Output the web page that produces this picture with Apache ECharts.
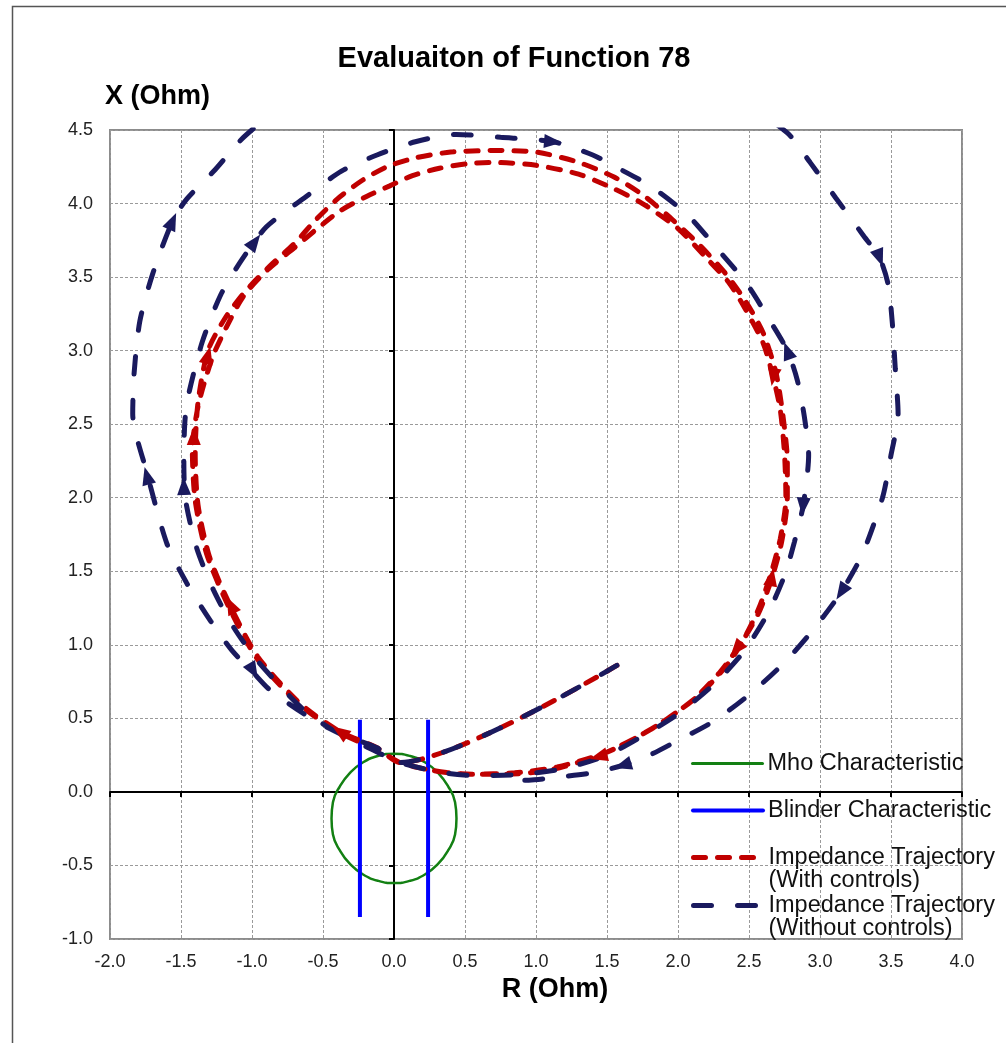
<!DOCTYPE html>
<html>
<head>
<meta charset="utf-8">
<title>Evaluaiton of Function 78</title>
<script src="https://cdn.jsdelivr.net/npm/echarts@6/dist/echarts.min.js"></script>
<style>
  html, body { margin: 0; padding: 0; background: #ffffff; }
  #chart { width: 1006px; height: 1043px; }
</style>
</head>
<body>
<div id="chart"></div>
<script>
// Axis ranges (Ohm)
const rRange = { min: -2.0, max: 4.0, step: 0.5 };
const xRange = { min: -1.0, max: 4.5, step: 0.5 };

// Mho characteristic, [R, X] points around the relay circle
const mhoPoints = [
  [0.44, -0.18], [0.43, -0.07], [0.38, 0.04], [0.31, 0.13], [0.22, 0.20], [0.11, 0.245],
  [0.00, 0.26], [-0.11, 0.245], [-0.22, 0.20], [-0.31, 0.13], [-0.38, 0.04], [-0.43, -0.07],
  [-0.44, -0.18], [-0.43, -0.29], [-0.38, -0.40], [-0.31, -0.49], [-0.22, -0.56], [-0.11, -0.605],
  [0.00, -0.62], [0.11, -0.605], [0.22, -0.56], [0.31, -0.49], [0.38, -0.40], [0.43, -0.29],
  [0.44, -0.18]
];

// Blinder characteristic: two vertical lines, '-' breaks between them
const blinderPoints = [
  [-0.24, 0.49], [-0.24, -0.85], ['-', '-'], [0.24, 0.49], [0.24, -0.85]
];

// Impedance trajectory with out-of-step controls
const trajWithControls = [
  [1.57, 0.86], [0.04, 0.20],
  [-0.12, 0.30], [-0.38, 0.41], [-0.66, 0.60], [-0.96, 0.92], [-1.15, 1.26], [-1.30, 1.60],
  [-1.38, 1.95], [-1.40, 2.30], [-1.38, 2.65], [-1.31, 3.00], [-1.19, 3.22], [-1.05, 3.40],
  [-0.88, 3.57], [-0.70, 3.73], [-0.55, 3.89], [-0.40, 4.03], [-0.22, 4.16], [-0.05, 4.25],
  [0.15, 4.31], [0.40, 4.35], [0.70, 4.36], [1.00, 4.35], [1.30, 4.28], [1.55, 4.18],
  [1.75, 4.06], [1.95, 3.90], [2.15, 3.72], [2.33, 3.53], [2.48, 3.33], [2.60, 3.12],
  [2.69, 2.85], [2.74, 2.55], [2.77, 2.25], [2.77, 2.00], [2.73, 1.70], [2.66, 1.45],
  [2.57, 1.22], [2.45, 1.02], [2.30, 0.82], [2.10, 0.62], [1.80, 0.42], [1.45, 0.25],
  [1.10, 0.15], [0.80, 0.12], [0.50, 0.12], [0.25, 0.15], [0.04, 0.20],
  [-0.12, 0.29], [-0.38, 0.40], [-0.66, 0.59], [-0.96, 0.90], [-1.16, 1.25], [-1.32, 1.62],
  [-1.40, 1.98], [-1.42, 2.32], [-1.38, 2.62], [-1.28, 2.95], [-1.18, 3.16], [-1.06, 3.37],
  [-0.89, 3.55], [-0.70, 3.70], [-0.54, 3.83], [-0.38, 3.95], [-0.19, 4.05], [-0.03, 4.12],
  [0.13, 4.19], [0.32, 4.24], [0.51, 4.27], [0.70, 4.28], [1.00, 4.26], [1.30, 4.20],
  [1.55, 4.10], [1.75, 4.00], [2.00, 3.83], [2.20, 3.63], [2.36, 3.46], [2.47, 3.29],
  [2.60, 3.05], [2.67, 2.82], [2.72, 2.60], [2.75, 2.30], [2.76, 2.00], [2.72, 1.72],
  [2.65, 1.47], [2.57, 1.25], [2.48, 1.07], [2.36, 0.88], [2.15, 0.66], [1.85, 0.45],
  [1.50, 0.27], [1.15, 0.17], [0.85, 0.13], [0.55, 0.12], [0.30, 0.14], [0.06, 0.19]
];

// Impedance trajectory without controls
const trajWithoutControls = [
  [1.57, 0.86], [0.04, 0.20],
  [-0.12, 0.30], [-0.43, 0.42], [-0.66, 0.58], [-0.96, 0.89], [-1.13, 1.12], [-1.27, 1.37],
  [-1.39, 1.66], [-1.47, 2.00], [-1.48, 2.30], [-1.47, 2.55], [-1.44, 2.73], [-1.35, 3.06],
  [-1.22, 3.38], [-1.07, 3.62], [-0.90, 3.84], [-0.63, 4.04], [-0.37, 4.22], [-0.12, 4.33],
  [0.15, 4.42], [0.44, 4.47], [0.75, 4.45], [1.12, 4.42], [1.40, 4.33], [1.60, 4.23],
  [1.82, 4.11], [2.07, 3.92], [2.27, 3.70], [2.48, 3.46], [2.65, 3.20], [2.77, 3.00],
  [2.84, 2.80], [2.89, 2.55], [2.92, 2.29], [2.88, 1.94], [2.82, 1.70], [2.75, 1.47],
  [2.63, 1.21], [2.46, 0.95], [2.25, 0.73], [2.00, 0.53], [1.75, 0.38], [1.50, 0.25],
  [1.20, 0.16], [0.90, 0.12], [0.60, 0.11], [0.35, 0.13], [0.04, 0.20],
  [-0.20, 0.31], [-0.45, 0.43], [-0.57, 0.49], [-0.87, 0.69], [-1.00, 0.82], [-1.14, 0.96],
  [-1.29, 1.16], [-1.46, 1.42], [-1.60, 1.69], [-1.74, 2.17], [-1.84, 2.57], [-1.83, 2.85],
  [-1.79, 3.20], [-1.70, 3.52], [-1.56, 3.88], [-1.46, 4.03], [-1.26, 4.23], [-1.06, 4.45],
  [-0.80, 4.65], [-0.40, 4.85], [0.20, 4.98], [1.00, 5.00], [1.80, 4.90], [2.40, 4.72],
  [2.77, 4.48], [2.93, 4.28], [3.11, 4.04], [3.30, 3.79], [3.42, 3.63], [3.48, 3.45],
  [3.51, 3.18], [3.53, 2.88], [3.55, 2.57], [3.50, 2.29], [3.44, 2.00], [3.30, 1.62],
  [3.15, 1.36], [2.95, 1.10], [2.75, 0.88], [2.50, 0.66], [2.25, 0.48], [2.00, 0.35],
  [1.80, 0.25], [1.61, 0.18], [1.40, 0.13], [1.15, 0.10], [0.95, 0.08], [0.78, 0.08]
];

// Direction arrows: [R, X, heading in degrees, counter-clockwise from +R]
const arrowsWithControls = [
  [-1.31, 2.97, 75], [-1.41, 2.42, 90], [-1.15, 1.27, 116], [-0.38, 0.41, 145],
  [2.67, 2.82, -100], [2.66, 1.46, 80], [2.41, 0.97, -130], [1.44, 0.24, -165]
];
const arrowsWithoutControls = [
  [-1.56, 3.88, 66], [-0.98, 3.74, 53], [-1.74, 2.15, 105], [-1.48, 2.08, 92],
  [-0.99, 0.82, -60], [1.12, 4.42, -5], [3.42, 3.63, -70], [2.77, 3.00, 110],
  [2.88, 1.94, -95], [3.15, 1.36, -123], [1.61, 0.18, -163]
];

const seriesNames = [
  'Mho Characteristic',
  'Blinder Characteristic',
  'Impedance Trajectory\n(With controls)',
  'Impedance Trajectory\n(Without controls)'
];

const FONT = '"Liberation Sans", Arial, Helvetica, sans-serif';
const RED = '#c00000';
const NAVY = '#1a1a5e';
const GREEN = '#138013';
const BLUE = '#0000ff';

const chart = echarts.init(document.getElementById('chart'), null, { renderer: 'canvas' });

// One legend block per entry; two-line entries get a blank leading line
// so the icon sits level with the first line of text
function legendFor(name, top, twoLine, dash, color, width) {
  return {
    data: [name],
    left: 691,
    top: top,
    padding: 0,
    itemWidth: 70,
    itemHeight: 14,
    selectedMode: false,
    formatter: n => (twoLine ? '\n' + n : n),
    itemStyle: { color: 'transparent', borderWidth: 0, opacity: 0 },
    lineStyle: { width: width, type: dash, cap: 'round', color: color },
    textStyle: {
      fontFamily: FONT,
      fontSize: 23.5,
      color: '#111',
      lineHeight: 23
    }
  };
}

const option = {
  backgroundColor: '#ffffff',
  animation: false,
  title: {
    text: 'Evaluaiton of Function 78',
    left: 509,
    top: 39,
    textAlign: 'center',
    textStyle: { fontFamily: FONT, fontSize: 29, fontWeight: 'bold', color: '#000' }
  },
  graphic: [{
    type: 'rect',
    shape: { x: 12.5, y: 6.5, width: 1010, height: 1100 },
    style: { fill: null, stroke: '#555', lineWidth: 1.5 },
    silent: true,
    z: -10
  }],
  legend: [
    legendFor(seriesNames[0], 751.5, false, 'solid', GREEN, 3),
    legendFor(seriesNames[1], 798.5, false, 'solid', BLUE, 4),
    legendFor(seriesNames[2], 822.5, true, [12, 12], RED, 5),
    legendFor(seriesNames[3], 870.5, true, [18, 26], NAVY, 5)
  ],
  grid: {
    left: 110, right: 44, top: 130, bottom: 104,
    show: true, borderColor: '#8c8c8c', borderWidth: 2, backgroundColor: 'transparent'
  },
  xAxis: [{
    type: 'value',
    min: rRange.min, max: rRange.max, interval: rRange.step,
    position: 'bottom',
    name: 'R (Ohm)',
    nameLocation: 'middle',
    nameGap: 31,
    nameTextStyle: { fontFamily: FONT, fontSize: 27, fontWeight: 'bold', color: '#000', padding: [0, 0, 0, 38] },
    axisLine: { show: false, onZero: false },
    axisTick: { show: false },
    axisLabel: {
      fontFamily: FONT, fontSize: 18, color: '#222', margin: 14,
      formatter: v => v.toFixed(1)
    },
    splitLine: { show: true, lineStyle: { color: '#9a9a9a', width: 1, type: [3, 2] } }
  }, {
    type: 'value',
    min: rRange.min, max: rRange.max, interval: rRange.step,
    position: 'bottom',
    axisLine: { show: true, onZero: true, onZeroAxisIndex: 0, lineStyle: { color: '#000', width: 2 } },
    axisTick: { show: true, inside: false, length: 5, lineStyle: { color: '#000', width: 2 } },
    axisLabel: { show: false },
    splitLine: { show: false }
  }],
  yAxis: [{
    type: 'value',
    min: xRange.min, max: xRange.max, interval: xRange.step,
    position: 'left',
    name: 'X (Ohm)',
    nameLocation: 'end',
    nameGap: 20,
    nameTextStyle: { fontFamily: FONT, fontSize: 27, fontWeight: 'bold', color: '#000', align: 'left', padding: [0, 0, 0, -5] },
    axisLine: { show: false, onZero: false },
    axisTick: { show: false },
    axisLabel: {
      fontFamily: FONT, fontSize: 18, color: '#222', margin: 17,
      formatter: v => v.toFixed(1)
    },
    splitLine: { show: true, lineStyle: { color: '#9a9a9a', width: 1, type: [3, 2] } }
  }, {
    type: 'value',
    min: xRange.min, max: xRange.max, interval: xRange.step,
    position: 'left',
    axisLine: { show: true, onZero: true, onZeroAxisIndex: 0, lineStyle: { color: '#000', width: 2 } },
    axisTick: { show: true, inside: false, length: 5, lineStyle: { color: '#000', width: 2 } },
    axisLabel: { show: false },
    splitLine: { show: false }
  }],
  series: [{
    name: seriesNames[0],
    type: 'line',
    data: mhoPoints,
    symbol: 'none',
    smooth: 0.5,
    lineStyle: { color: GREEN, width: 2.5 },
    itemStyle: { color: GREEN },
    z: 3
  }, {
    name: seriesNames[1],
    type: 'line',
    data: blinderPoints,
    symbol: 'none',
    connectNulls: false,
    lineStyle: { color: BLUE, width: 4 },
    itemStyle: { color: BLUE },
    z: 3
  }, {
    name: seriesNames[2],
    type: 'line',
    data: trajWithControls,
    symbol: 'none',
    smooth: 0.25,
    clip: true,
    lineStyle: { color: RED, width: 5, type: [12, 12], cap: 'round' },
    itemStyle: { color: RED },
    z: 4
  }, {
    name: seriesNames[3],
    type: 'line',
    data: trajWithoutControls,
    symbol: 'none',
    smooth: 0.25,
    clip: true,
    lineStyle: { color: NAVY, width: 5, type: [18, 26], cap: 'round' },
    itemStyle: { color: NAVY },
    z: 5
  }, {
    name: 'arrows-with',
    type: 'scatter',
    data: arrowsWithControls,
    symbol: 'triangle',
    symbolSize: [14, 18],
    symbolRotate: v => v[2] - 90,
    itemStyle: { color: RED, opacity: 1 },
    z: 6
  }, {
    name: 'arrows-without',
    type: 'scatter',
    data: arrowsWithoutControls,
    symbol: 'triangle',
    symbolSize: [14, 18],
    symbolRotate: v => v[2] - 90,
    itemStyle: { color: NAVY, opacity: 1 },
    z: 7
  }]
};

chart.setOption(option);
</script>
</body>
</html>
